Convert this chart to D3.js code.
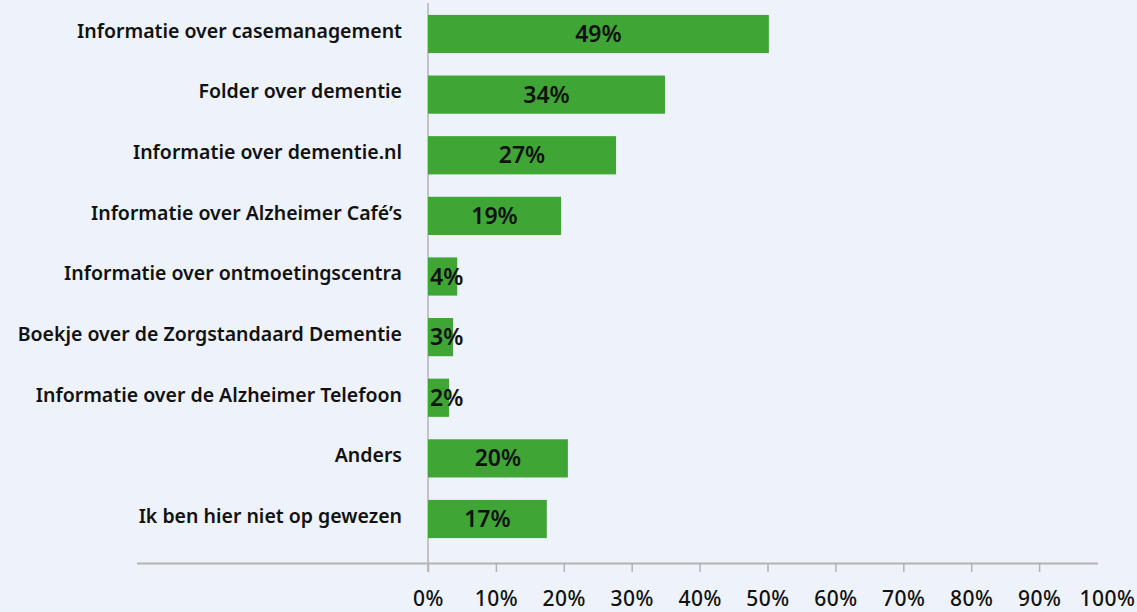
<!DOCTYPE html>
<html lang="nl">
<head>
<meta charset="UTF-8">
<title>Informatie</title>
<style>
  body { margin: 0; background: #eef2fa; }
  svg { display: block; }
  .cat { font-family: "Noto Sans", sans-serif; font-weight: 600; font-size: 19.5px; fill: #111; }
  .val { font-family: "Noto Sans", sans-serif; font-weight: 600; font-size: 23px; fill: #111; }
  .tick text { font-family: "Noto Sans", sans-serif; font-weight: 500; font-size: 21px; fill: #111; letter-spacing: 0.5px; }
</style>
</head>
<body>
<svg id="chart" width="1137" height="612"></svg>
<script src="https://d3js.org/d3.v7.min.js"></script>
<script>
// categories and values
const categories = [
  "Informatie over casemanagement",
  "Folder over dementie",
  "Informatie over dementie.nl",
  "Informatie over Alzheimer Café’s",
  "Informatie over ontmoetingscentra",
  "Boekje over de Zorgstandaard Dementie",
  "Informatie over de Alzheimer Telefoon",
  "Anders",
  "Ik ben hier niet op gewezen"
];
const barValues = [50.2, 34.9, 27.7, 19.6, 4.3, 3.7, 3.1, 20.6, 17.5];
const valueLabels = ["49%", "34%", "27%", "19%", "4%", "3%", "2%", "20%", "17%"];
const ticks = [0, 10, 20, 30, 40, 50, 60, 70, 80, 90, 100];

const svg = d3.select("#chart");

const x = d3.scaleLinear().domain([0, 100]).range([428, 1107]);
const y = d3.scaleBand().domain(categories).range([4, 549]).paddingInner(0.37).paddingOuter(0.18);

// axis lines
svg.append("line")
  .attr("x1", 137).attr("x2", 1098)
  .attr("y1", 563.5).attr("y2", 563.5)
  .attr("stroke", "#b3b3b3").attr("stroke-width", 2);
svg.append("line")
  .attr("x1", x(0)).attr("x2", x(0))
  .attr("y1", 3).attr("y2", 572)
  .attr("stroke", "#b3b3b3").attr("stroke-width", 1.5);

const xAxis = d3.axisBottom(x)
  .tickValues(ticks)
  .tickSize(9)
  .tickPadding(19)
  .tickFormat(d => d + "%");

const gx = svg.append("g")
  .attr("transform", "translate(0,563)")
  .call(xAxis);
gx.select(".domain").remove();
gx.selectAll(".tick line").attr("stroke", "#b3b3b3").attr("stroke-width", 1.5)
  .filter(d => d === 100).remove();

// bars
svg.selectAll("rect.bar")
  .data(categories)
  .join("rect")
  .attr("class", "bar")
  .attr("x", x(0))
  .attr("y", d => y(d))
  .attr("width", (d, i) => x(barValues[i]) - x(0))
  .attr("height", y.bandwidth())
  .attr("fill", "#3fa535");

// category labels
svg.selectAll("text.cat")
  .data(categories)
  .join("text")
  .attr("class", "cat")
  .attr("x", 402)
  .attr("y", d => y(d) + y.bandwidth() / 2 - 3)
  .attr("dy", "0.35em")
  .attr("text-anchor", "end")
  .text(d => d);

// value labels
svg.selectAll("text.val")
  .data(categories)
  .join("text")
  .attr("class", "val")
  .attr("y", d => y(d) + y.bandwidth() / 2)
  .attr("dy", "0.35em")
  .text((d, i) => valueLabels[i])
  .each(function (d, i) {
    const w = this.getComputedTextLength();
    const bw = x(barValues[i]) - x(0);
    const t = d3.select(this);
    if (bw > w + 4) {
      t.attr("x", x(0) + bw / 2).attr("text-anchor", "middle");
    } else {
      t.attr("x", x(0) + 2).attr("text-anchor", "start");
    }
  });
</script>
</body>
</html>
